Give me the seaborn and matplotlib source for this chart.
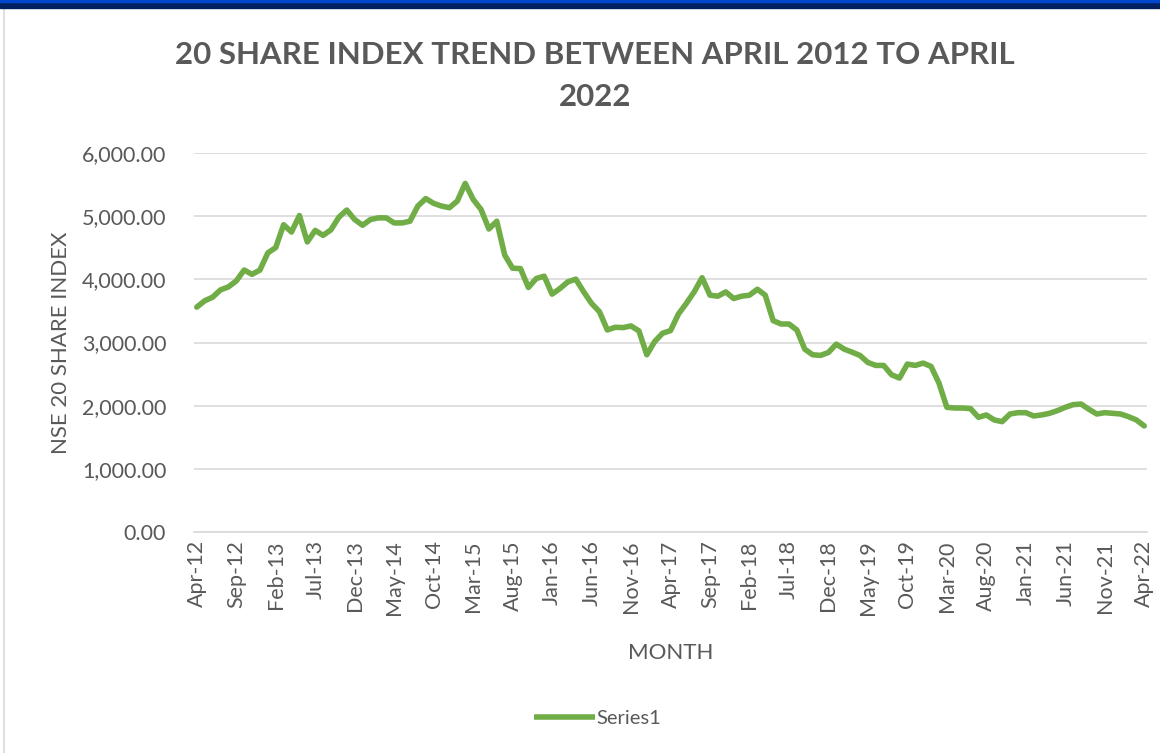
import matplotlib
matplotlib.use("Agg")
import matplotlib.pyplot as plt
import pandas as pd
import seaborn as sns
from matplotlib.ticker import FuncFormatter, FixedLocator
from matplotlib.patches import Rectangle
from matplotlib.lines import Line2D

# --- Dados ---
months = pd.date_range('2012-04-01', '2022-04-01', freq='MS')
month_labels = [m.strftime('%b-%y') for m in months]

index_values = [
    3560, 3660, 3717, 3832, 3880, 3974, 4147, 4079, 4147, 4419,
    4503, 4864, 4749, 5010, 4592, 4775, 4696, 4785, 4984, 5097,
    4947, 4856, 4947, 4973, 4973, 4893, 4893, 4920, 5160, 5278,
    5203, 5160, 5134, 5240, 5519, 5267, 5107, 4797, 4920, 4385,
    4176, 4170, 3871, 4013, 4050, 3766, 3855, 3960, 4003, 3803,
    3619, 3488, 3199, 3241, 3236, 3262, 3184, 2806, 3016,
    3147, 3188, 3450, 3618, 3801, 4026, 3749, 3733, 3801, 3696,
    3733, 3749, 3843, 3749, 3346, 3293, 3293, 3199, 2895, 2806, 2796,
    2842, 2974, 2895, 2847, 2795, 2684, 2637, 2637, 2489, 2437,
    2658, 2637, 2674, 2621, 2358, 1974, 1963, 1963, 1953,
    1816, 1853, 1774, 1747, 1868, 1889, 1889, 1837, 1853, 1879,
    1921, 1974, 2016, 2026, 1942, 1868, 1889, 1879, 1868, 1826,
    1774, 1679,
]
y_ticks = [0, 1000, 2000, 3000, 4000, 5000, 6000]

df = pd.DataFrame({'pos': range(len(index_values)), 'valor': index_values,
                   'serie': 'Series1'})

# --- Configurações visuais ---
sns.set_theme(style="whitegrid")
plt.rcParams['font.family'] = ['Lato', 'DejaVu Sans']
grey = '#595959'
green = '#70AD47'

fig = plt.figure(figsize=(11.6, 7.53), dpi=100)
ax = fig.add_axes([194 / 1160, 1 - 532 / 753, (1147 - 194) / 1160, (532 - 153) / 753])

sns.lineplot(data=df, x='pos', y='valor', color=green, linewidth=4,
             solid_joinstyle='round', solid_capstyle='round', ax=ax, legend=False)

ax.set_ylim(0, 6000)
ax.set_xlim(-0.35, len(index_values) - 1 + 0.35)
ax.yaxis.set_major_locator(FixedLocator(y_ticks))
ax.yaxis.set_major_formatter(FuncFormatter(lambda y, _: f'{y:,.2f}'))
tick_pos = list(range(0, len(month_labels), 5))
ax.set_xticks(tick_pos)
ax.set_xticklabels([month_labels[i] for i in tick_pos], rotation=90)

ax.grid(axis='y', color='#D9D9D9', linewidth=1.2)
ax.grid(axis='x', visible=False)
for s in ['top', 'right', 'left']:
    ax.spines[s].set_visible(False)
ax.spines['bottom'].set_color('#D9D9D9')
ax.spines['bottom'].set_linewidth(1.2)
ax.tick_params(axis='x', colors=grey, labelsize=15.5, length=0, pad=6)
ax.tick_params(axis='y', colors=grey, labelsize=15.5, length=0, pad=20)

ax.set_xlabel('MONTH', fontsize=16, color=grey, labelpad=20)
ax.set_ylabel('NSE 20 SHARE INDEX', fontsize=16, color=grey, labelpad=8)

fig.text(595 / 1160, 1 - 76 / 753, '20 SHARE INDEX TREND BETWEEN APRIL 2012 TO APRIL\n2022',
         ha='center', va='center', fontsize=22.5, fontweight='bold', color=grey,
         linespacing=1.6)

# faixa azul no topo e borda esquerda
fig.patches.append(Rectangle((0, 1 - 8 / 753), 1, 8 / 753, transform=fig.transFigure,
                             color='#002060', zorder=5))
fig.patches.append(Rectangle((0, 1 - 2 / 753), 1, 2 / 753, transform=fig.transFigure,
                             color='#0047CC', zorder=6))
fig.lines.append(Line2D([4 / 1160, 4 / 1160], [0, 1 - 8 / 753], transform=fig.transFigure,
                        color='#D9D9D9', linewidth=1.2))

handle = Line2D([], [], color=green, linewidth=4, solid_capstyle='butt')
fig.legend([handle], ['Series1'], loc='center', bbox_to_anchor=(598 / 1160, 1 - 718 / 753),
           frameon=False, fontsize=14.5, labelcolor=grey, handlelength=3, handletextpad=0.1)

plt.savefig('out.png', dpi=100)
